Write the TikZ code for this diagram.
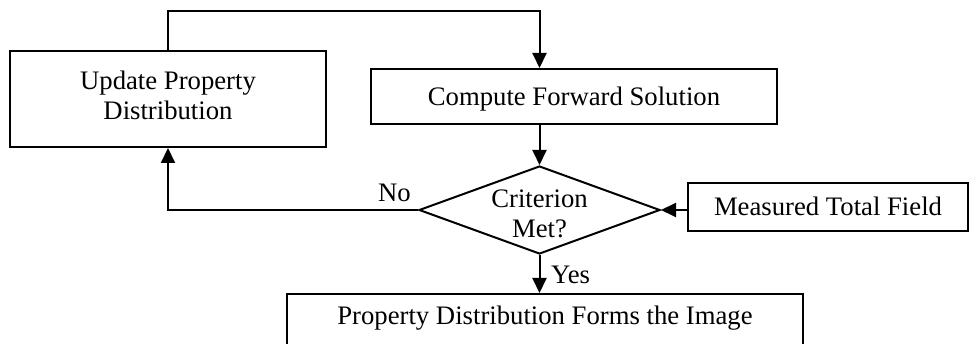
\documentclass[tikz,border=0pt]{standalone}
\usepackage{fontspec}
\setmainfont{Liberation Serif}
\usetikzlibrary{shapes.geometric, arrows.meta, calc}

\tikzset{
  procbox/.style={draw, line width=2pt, inner sep=0pt, font=\fontsize{26.7}{29.5}\selectfont, align=center},
  decision/.style={draw, diamond, aspect=2.74, line width=2pt, inner sep=-3pt, minimum width=241pt, minimum height=88pt, font=\fontsize{26.7}{30}\selectfont, align=center},
  flow/.style={line width=2pt, -{Triangle[length=15pt, width=14pt]}},
  lbl/.style={inner sep=0pt, font=\fontsize{26.7}{29.5}\selectfont}
}

\begin{document}
\begin{tikzpicture}[x=1pt, y=-1pt]
  \useasboundingbox (0,0) rectangle (969,344);
  \clip (0,0) rectangle (969,344);

  % Boxes
  \node[procbox, minimum width=316pt, minimum height=96pt] (update) at (168, 99) {Update Property\\Distribution\rule[-8pt]{0pt}{8pt}};
  \node[procbox, minimum width=406pt, minimum height=55pt, text height=18pt, text depth=0pt] (compute) at (574, 96.5) {Compute Forward Solution};
  \node[decision] (crit) at (539.5, 210) {\rule{0pt}{26pt}Criterion\\Met?};
  \node[procbox, minimum width=280pt, minimum height=48pt, text height=18pt, text depth=0pt] (meas) at (828, 207) {Measured Total Field};
  \node[procbox, anchor=north, minimum width=516pt, text height=31pt, text depth=30pt] (result) at (545, 293) {Property Distribution Forms the Image};

  % Labels
  \node[lbl, anchor=south east] (no) at ($(crit.west)+(-7,-8)$) {No};
  \node[lbl, anchor=base west] (yes) at ($(crit.south)+(11.5,29)$) {Yes};

  % Connectors
  \coordinate (loop) at (539.5, 11);
  \draw[flow] (update.north) |- (loop) -- (loop|-compute.north);
  \draw[flow] (crit.north|-compute.south) -- (crit.north);
  \draw[flow] (crit.west) -| (update.south);
  \draw[flow] (meas.west|-crit.east) -- (crit.east);
  \draw[flow] (crit.south) -- (crit.south|-result.north);
\end{tikzpicture}
\end{document}
